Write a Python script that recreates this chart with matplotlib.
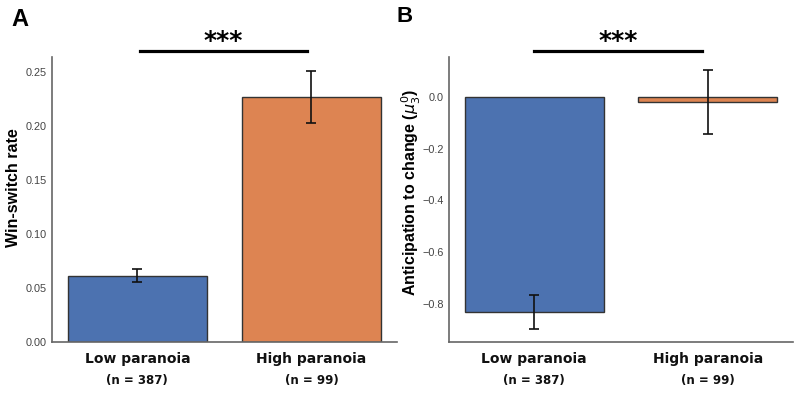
import matplotlib
matplotlib.use("Agg")
import matplotlib.pyplot as plt
import numpy as np

groups = ["Low paranoia", "High paranoia"]
group_n = ["(n = 387)", "(n = 99)"]
win_switch = [0.0615, 0.227]
win_switch_err = [0.0062, 0.024]
anticipation = [-0.830, -0.020]
anticipation_err = [0.067, 0.123]
colors = ["#4C72B0", "#DD8452"]

plt.rcParams['font.family'] = ['Liberation Sans', 'DejaVu Sans']
fig = plt.figure(figsize=(8, 3.95), dpi=100)
axA = fig.add_axes([0.065, 0.134, 0.431, 0.722])
axB = fig.add_axes([0.5616, 0.134, 0.4294, 0.722])

def style(ax):
    for s in ['top', 'right']:
        ax.spines[s].set_visible(False)
    for s in ['left', 'bottom']:
        ax.spines[s].set_color('#666666')
        ax.spines[s].set_linewidth(1.2)
    ax.tick_params(length=0, pad=4, labelsize=7.8, labelcolor='#444444')
    x = np.arange(len(groups))
    ax.set_xticks(x)
    ax.set_xticklabels(groups, fontfamily='DejaVu Sans', fontweight='bold',
                       fontsize=10, color='#111111')
    ax.tick_params(axis='x', pad=7)
    for xi, lab in zip(x, group_n):
        ax.annotate(lab, xy=(xi, 0), xycoords=('data', 'axes fraction'),
                    xytext=(0, -28), textcoords='offset points',
                    ha='center', va='center', fontfamily='DejaVu Sans',
                    fontweight='bold', fontsize=8.5, color='#111111')
    ax.set_xlim(-0.49, 1.49)

def draw(ax, vals, errs):
    x = np.arange(len(vals))
    ax.bar(x, vals, width=0.8, color=colors, edgecolor='#333333', linewidth=1.0, zorder=2)
    ax.errorbar(x, vals, yerr=errs, fmt='none', ecolor='#111111', elinewidth=1.2,
                capsize=3.6, capthick=1.2, zorder=3)

# Panel A
draw(axA, win_switch, win_switch_err)
style(axA)
axA.set_ylim(0, 0.264)
axA.set_yticks([0.0, 0.05, 0.10, 0.15, 0.20, 0.25])
axA.set_yticklabels(["0.00", "0.05", "0.10", "0.15", "0.20", "0.25"])
axA.set_ylabel("Win-switch rate", fontsize=11.5, fontweight='bold')
axA.yaxis.label.set_va('center')
axA.yaxis.set_label_coords(-0.113, 0.54)

# Panel B
draw(axB, anticipation, anticipation_err)
style(axB)
axB.set_ylim(-0.9455, 0.153)
axB.set_yticks([0.0, -0.2, -0.4, -0.6, -0.8])
axB.set_yticklabels(["0.0", "\u22120.2", "\u22120.4", "\u22120.6", "\u22120.8"])
axB.set_ylabel(r"Anticipation to change ($\mu_3^0$)", fontsize=11.5,
               fontweight='bold')
axB.yaxis.label.set_va('center')
axB.yaxis.set_label_coords(-0.11, 0.526)

# significance bars (figure coords)
fig.add_artist(plt.Line2D([140/800, 307/800], [1-50.7/395]*2, color='black', lw=2.3))
fig.add_artist(plt.Line2D([534/800, 701.7/800], [1-50.7/395]*2, color='black', lw=2.3))
fig.text(223.5/800, 1-41/395, "***", ha='center', va='center', fontsize=18,
         fontweight='bold', fontfamily='DejaVu Sans')
fig.text(617.7/800, 1-41/395, "***", ha='center', va='center', fontsize=18,
         fontweight='bold', fontfamily='DejaVu Sans')

fig.text(11/800, 1-19/395, "A", ha='left', va='center', fontsize=17, fontweight='bold')
fig.text(397/800, 1-17/395, "B", ha='left', va='center', fontsize=16, fontweight='bold')

fig.savefig("out.png", dpi=100)
